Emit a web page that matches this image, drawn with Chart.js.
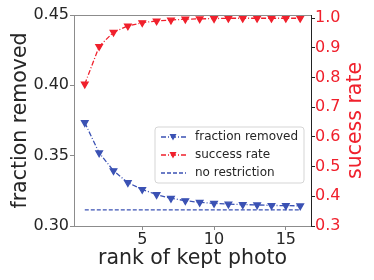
<!DOCTYPE html>
<html>
<head>
<meta charset="utf-8">
<script src="https://cdn.jsdelivr.net/npm/chart.js@4.4.1/dist/chart.umd.min.js"></script>
<style>
  html, body { margin: 0; padding: 0; background: #fff; }
  #wrap { width: 374px; height: 280px; }
</style>
</head>
<body>
<div id="wrap"><canvas id="chart" width="374" height="280"></canvas></div>
<script>
// values
const ranks = [1, 2, 3, 4, 5, 6, 7, 8, 9, 10, 11, 12, 13, 14, 15, 16];
const fractionRemoved = [0.3735, 0.352, 0.3393, 0.3308, 0.326, 0.3223, 0.3197, 0.318,
                         0.3168, 0.3161, 0.3156, 0.3152, 0.315, 0.3146, 0.3145, 0.3143];
const successRate = [0.778, 0.905, 0.953, 0.974, 0.985, 0.991, 0.994, 0.997,
                     0.998, 0.999, 1.0, 1.0, 1.0, 1.0, 1.0, 1.0];
const noRestriction = 0.3114;
const leftTicks = [0.30, 0.35, 0.40, 0.45];
const rightTicks = [0.3, 0.4, 0.5, 0.6, 0.7, 0.8, 0.9, 1.0];
const xTicks = [5, 10, 15];

const BLUE = '#3b52b4';
const RED = '#f0202c';
const TEXT = '#262626';
const FONT = 'DejaVu Sans';
const TITLE_SIZE = 20.5;

const toPoints = (xs, ys) => xs.map((x, i) => ({ x: x, y: ys[i] }));

// frame, right title and in-axes legend
const extras = {
    id: 'extras',
    afterDraw(chart) {
        const ctx = chart.ctx;
        const a = chart.chartArea;
        ctx.save();
        ctx.strokeStyle = '#8c8c8c';
        ctx.lineWidth = 1;
        ctx.strokeRect(a.left + 0.5, a.top + 0.5, a.right - a.left, a.bottom - a.top);
        ctx.strokeStyle = '#222';
        ctx.beginPath();
        ctx.moveTo(a.right + 0.5, a.top);
        ctx.lineTo(a.right + 0.5, a.bottom + 1);
        ctx.stroke();

        // right axis title, reads bottom to top
        ctx.fillStyle = RED;
        ctx.font = TITLE_SIZE + 'px "' + FONT + '"';
        ctx.textAlign = 'center';
        ctx.textBaseline = 'middle';
        ctx.translate(356, (a.top + a.bottom) / 2);
        ctx.rotate(-Math.PI / 2);
        ctx.fillText('sucess rate', 0, 0);
        ctx.restore();

        // legend
        ctx.save();
        const bx = 155, by = 127, bw = 149, bh = 56, r = 3;
        ctx.beginPath();
        ctx.moveTo(bx + r, by);
        ctx.arcTo(bx + bw, by, bx + bw, by + bh, r);
        ctx.arcTo(bx + bw, by + bh, bx, by + bh, r);
        ctx.arcTo(bx, by + bh, bx, by, r);
        ctx.arcTo(bx, by, bx + bw, by, r);
        ctx.closePath();
        ctx.fillStyle = 'rgba(255,255,255,0.8)';
        ctx.fill();
        ctx.strokeStyle = '#d5d5d5';
        ctx.stroke();

        const items = [
            { label: 'fraction removed', color: BLUE, dash: [5, 2, 1, 2], marker: true },
            { label: 'success rate', color: RED, dash: [5, 2, 1, 2], marker: true },
            { label: 'no restriction', color: BLUE, dash: [4, 2], marker: false }
        ];
        items.forEach((it, i) => {
            const y = 137 + i * 18;
            ctx.strokeStyle = it.color;
            ctx.lineWidth = 1.3;
            ctx.setLineDash(it.dash);
            ctx.beginPath();
            ctx.moveTo(161, y);
            ctx.lineTo(186, y);
            ctx.stroke();
            ctx.setLineDash([]);
            if (it.marker) {
                ctx.fillStyle = it.color;
                ctx.beginPath();
                ctx.moveTo(169.5, y - 3);
                ctx.lineTo(176.5, y - 3);
                ctx.lineTo(173, y + 3.5);
                ctx.closePath();
                ctx.fill();
            }
            ctx.fillStyle = TEXT;
            ctx.font = '12px "' + FONT + '"';
            ctx.textAlign = 'left';
            ctx.textBaseline = 'middle';
            ctx.fillText(it.label, 195, y);
        });
        ctx.restore();
    }
};

new Chart(document.getElementById('chart'), {
    type: 'line',
    data: {
        datasets: [
            {
                label: 'success rate',
                data: toPoints(ranks, successRate),
                yAxisID: 'yRight',
                borderColor: RED,
                backgroundColor: RED,
                borderWidth: 1.3,
                borderDash: [5, 2, 1, 2],
                pointStyle: 'triangle',
                rotation: 180,
                pointRadius: 3.8,
                tension: 0
            },
            {
                label: 'fraction removed',
                data: toPoints(ranks, fractionRemoved),
                yAxisID: 'y',
                borderColor: BLUE,
                backgroundColor: BLUE,
                borderWidth: 1.3,
                borderDash: [5, 2, 1, 2],
                pointStyle: 'triangle',
                rotation: 180,
                pointRadius: 3.8,
                tension: 0
            },
            {
                label: 'no restriction',
                data: toPoints([ranks[0], ranks[ranks.length - 1]], [noRestriction, noRestriction]),
                yAxisID: 'y',
                borderColor: BLUE,
                borderWidth: 1.3,
                borderDash: [4, 2],
                pointRadius: 0,
                tension: 0
            }
        ]
    },
    options: {
        responsive: false,
        animation: false,
        events: [],
        layout: { padding: { top: 15, left: 0, right: 0, bottom: 0 } },
        plugins: {
            legend: { display: false },
            tooltip: { enabled: false }
        },
        scales: {
            x: {
                type: 'linear',
                min: 0.25,
                max: 16.75,
                afterBuildTicks: (s) => { s.ticks = xTicks.map(v => ({ value: v })); },
                afterFit: (s) => { s.height = 54; },
                grid: { drawOnChartArea: false, drawTicks: true, tickLength: 4, color: '#8c8c8c' },
                border: { display: true, color: '#8c8c8c' },
                ticks: { color: TEXT, font: { family: FONT, size: 16 }, padding: 0, maxRotation: 0 },
                title: { display: true, text: 'rank of kept photo', color: TEXT,
                         font: { family: FONT, size: TITLE_SIZE }, padding: { top: 0, bottom: 9 } }
            },
            y: {
                position: 'left',
                min: 0.30,
                max: 0.45,
                afterBuildTicks: (s) => { s.ticks = leftTicks.map(v => ({ value: v })); },
                afterFit: (s) => { s.width = 74; },
                grid: { drawOnChartArea: false, drawTicks: true, tickLength: 4, color: '#8c8c8c' },
                border: { display: true, color: '#8c8c8c' },
                ticks: { color: TEXT, font: { family: FONT, size: 16 }, padding: 1,
                         callback: (v) => v.toFixed(2) },
                title: { display: true, text: 'fraction removed', color: TEXT,
                         font: { family: FONT, size: TITLE_SIZE }, padding: { top: 8, bottom: 0 } }
            },
            yRight: {
                position: 'right',
                min: 0.3,
                max: 1.011,
                afterBuildTicks: (s) => { s.ticks = rightTicks.map(v => ({ value: v })); },
                afterFit: (s) => { s.width = 63; },
                grid: { drawOnChartArea: false, drawTicks: true, tickLength: 4, color: '#222' },
                border: { display: true, color: '#222' },
                ticks: { color: RED, font: { family: FONT, size: 16 }, padding: 0,
                         callback: (v) => v.toFixed(1) }
            }
        }
    },
    plugins: [extras]
});
</script>
</body>
</html>
